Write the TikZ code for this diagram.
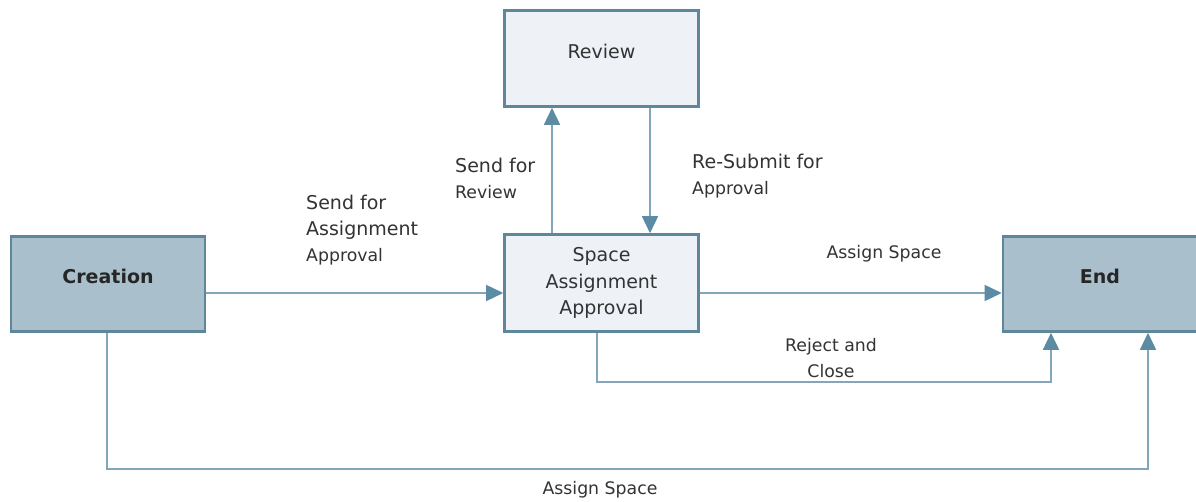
\documentclass[tikz,border=0pt]{standalone}
\usepackage{fontspec}
\setmainfont{DejaVu Sans}
\usetikzlibrary{arrows.meta}
\definecolor{darkfill}{HTML}{A9C0CC}
\definecolor{lightfill}{HTML}{EEF2F7}
\definecolor{boxborder}{HTML}{5E879C}
\definecolor{linec}{HTML}{82A7BA}
\definecolor{arrowc}{HTML}{5C8CA4}
\definecolor{txt}{HTML}{333333}
\tikzset{
  x=1pt, y=-1pt,
  boxbase/.style={draw=boxborder, line width=2.6pt, minimum width=194pt, inner sep=0pt, text=txt},
  darkbox/.style={boxbase, fill=darkfill, font=\fontsize{19}{26}\selectfont\bfseries, text=black!85},
  lightbox/.style={boxbase, fill=lightfill, font=\fontsize{19}{26.5}\selectfont},
  flow/.style={draw=linec, line width=1.6pt, -{Triangle[length=17pt,width=16pt,color=arrowc]}},
  elabel/.style={text=txt, inner sep=0pt, align=left},
  big/.style={font=\fontsize{19}{26}\selectfont},
}
\newcommand{\sm}{\fontsize{17.3}{26}\selectfont}
\begin{document}
\begin{tikzpicture}
\clip (0,0) rectangle (1196,502);
\fill[white] (0,0) rectangle (1196,502);

% boxes
\node[darkbox, minimum height=95pt, text height=0pt, text depth=0pt] (crea) at (108,284) {Creation};
\node[lightbox, minimum height=96pt, text height=0pt, text depth=0pt] (rev) at (601.5,58.5) {Review};
\node[lightbox, minimum height=97pt, align=center] (spc) at (601.5,283) {Space\\Assignment\\Approval};
\node[darkbox, minimum height=95pt, text height=0pt, text depth=0pt] (end) at (1100,284) {End};

% helper coordinates
\coordinate (mid) at (0,293);
\coordinate (upx) at (552,0);
\coordinate (dnx) at (650,0);
\coordinate (rjx) at (597,0);
\coordinate (rjy) at (0,382);
\coordinate (rex) at (1051,0);
\coordinate (btx) at (107,0);
\coordinate (bty) at (0,469);
\coordinate (bex) at (1148,0);

% connectors
\draw[flow] (crea.east |- mid) -- (spc.west |- mid);
\draw[flow] (spc.east |- mid) -- (end.west |- mid);
\draw[flow] (spc.north -| upx) -- (rev.south -| upx);
\draw[flow] (rev.south -| dnx) -- (spc.north -| dnx);
\draw[flow] (spc.south -| rjx) -- (rjx |- rjy) -- (rex |- rjy) -- (end.south -| rex);
\draw[flow] (crea.south -| btx) -- (btx |- bty) -- (bex |- bty) -- (end.south -| bex);

% labels
\node[elabel, big, anchor=west] (l1) at (306,230) {Send for\\Assignment\\{\sm Approval}};
\node[elabel, big, anchor=west] (l2) at (455,178) {Send for\\{\sm Review}};
\node[elabel, big, anchor=west] (l3) at (692,176) {Re-Submit for\\{\sm Approval}};
\node[elabel, anchor=center, font=\sm] (l4) at (884,254) {Assign Space};
\node[elabel, anchor=center, align=center, font=\sm] (l5) at (831,358) {Reject and\\Close};
\node[elabel, anchor=center, font=\sm] (l6) at (600,490) {Assign Space};
\end{tikzpicture}
\end{document}
